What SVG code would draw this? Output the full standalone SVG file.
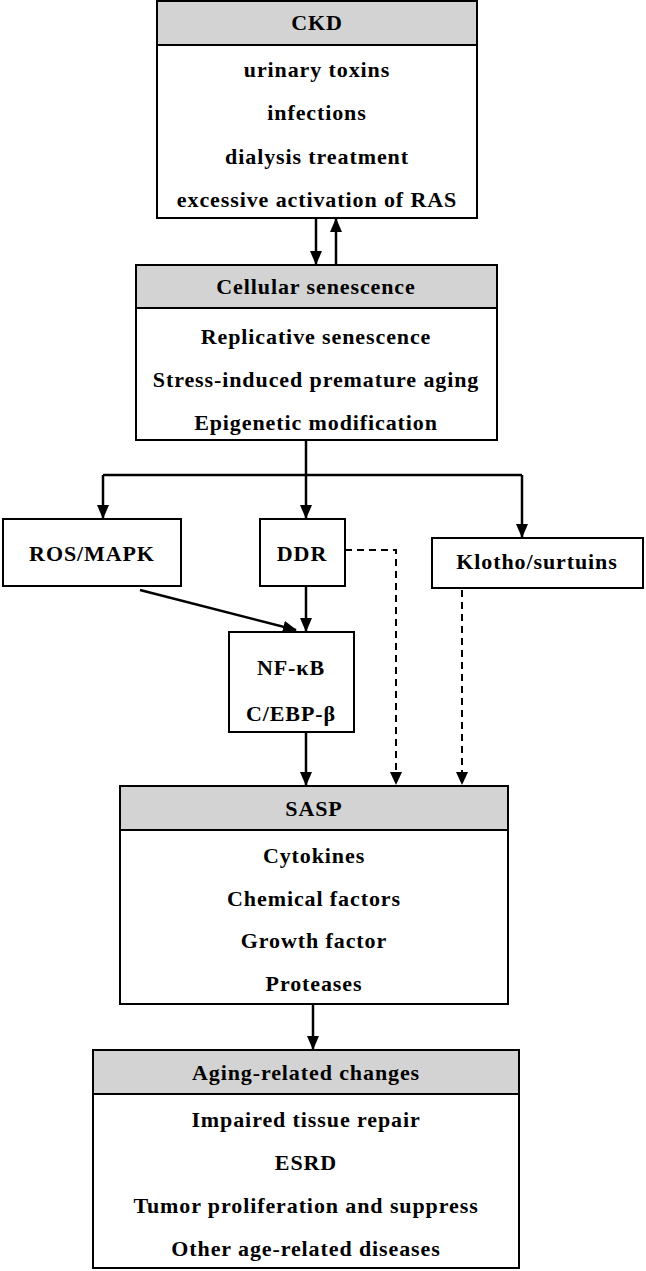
<svg xmlns="http://www.w3.org/2000/svg" width="646" height="1271" viewBox="0 0 646 1271">
<style>
.box{fill:#fff;stroke:#000;stroke-width:2}
.hd{fill:#d3d3d3;stroke:#000;stroke-width:2}
text{font-family:"Liberation Serif","Times New Roman",serif;font-weight:bold;font-size:22px;letter-spacing:0.9px;text-anchor:middle;fill:#000}
.ln{stroke:#000;stroke-width:2.5;fill:none}
.ds{stroke:#000;stroke-width:2;fill:none;stroke-dasharray:7,5}
</style>
<defs>
<marker id="ah2" markerWidth="14" markerHeight="12" refX="13" refY="6" orient="auto" markerUnits="userSpaceOnUse"><path d="M0,0 L14,6 L0,12 z" fill="#000"/></marker></defs>
<g id="ckd"><rect class="box" x="157" y="1" width="320" height="217"/><rect class="hd" x="157" y="1" width="320" height="44"/>
<text x="317" y="30">CKD</text><text x="317" y="77">urinary toxins</text><text x="317" y="120">infections</text><text x="317" y="164">dialysis treatment</text><text x="317" y="207">excessive activation of RAS</text></g>
<g id="cs"><rect class="box" x="136" y="265" width="361" height="175"/><rect class="hd" x="136" y="265" width="361" height="43"/>
<text x="316" y="294">Cellular senescence</text><text x="316" y="344">Replicative senescence</text><text x="316" y="387">Stress-induced premature aging</text><text x="316" y="430">Epigenetic modification</text></g>
<g id="ros"><rect class="box" x="3" y="519" width="178" height="67"/><text x="92" y="561">ROS/MAPK</text></g>
<g id="ddr"><rect class="box" x="260" y="519" width="85" height="67"/><text x="302" y="561">DDR</text></g>
<g id="klotho"><rect class="box" x="432" y="538" width="211" height="50"/><text x="537" y="569">Klotho/surtuins</text></g>
<g id="nfkb"><rect class="box" x="229" y="632" width="125" height="100"/><text x="291" y="675">NF-κB</text><text x="291" y="721">C/EBP-β</text></g>
<g id="sasp"><rect class="box" x="120" y="786" width="388" height="218"/><rect class="hd" x="120" y="786" width="388" height="44"/>
<text x="314" y="816">SASP</text><text x="314" y="863">Cytokines</text><text x="314" y="906">Chemical factors</text><text x="314" y="948">Growth factor</text><text x="314" y="991">Proteases</text></g>
<g id="aging"><rect class="box" x="93" y="1050" width="426" height="218"/><rect class="hd" x="93" y="1050" width="426" height="44"/>
<text x="306" y="1080">Aging-related changes</text><text x="306" y="1127">Impaired tissue repair</text><text x="306" y="1170">ESRD</text><text x="306" y="1213">Tumor proliferation and suppress</text><text x="306" y="1256">Other age-related diseases</text></g>
<g id="connectors">
<line class="ln" x1="316" y1="218" x2="316" y2="264" marker-end="url(#ah2)"/>
<line class="ln" x1="336" y1="265" x2="336" y2="219" marker-end="url(#ah2)"/>
<polyline class="ln" points="306,440 306,475"/>
<line class="ln" x1="103" y1="475" x2="522" y2="475"/>
<line class="ln" x1="103" y1="475" x2="103" y2="518" marker-end="url(#ah2)"/>
<line class="ln" x1="306" y1="475" x2="306" y2="518" marker-end="url(#ah2)"/>
<line class="ln" x1="522" y1="475" x2="522" y2="537" marker-end="url(#ah2)"/>
<line class="ln" x1="140" y1="590" x2="296" y2="630" marker-end="url(#ah2)"/>
<line class="ln" x1="306" y1="586" x2="306" y2="631" marker-end="url(#ah2)"/>
<line class="ln" x1="306" y1="732" x2="306" y2="785" marker-end="url(#ah2)"/>
<polyline class="ds" points="345,550 396,550 396,772"/>
<path d="M390,772 L402,772 L396,785 z" fill="#000"/>
<line class="ds" x1="462" y1="590" x2="462" y2="772"/>
<path d="M456,772 L468,772 L462,785 z" fill="#000"/>
<line class="ln" x1="313" y1="1004" x2="313" y2="1049" marker-end="url(#ah2)"/>
</g>
</svg>
